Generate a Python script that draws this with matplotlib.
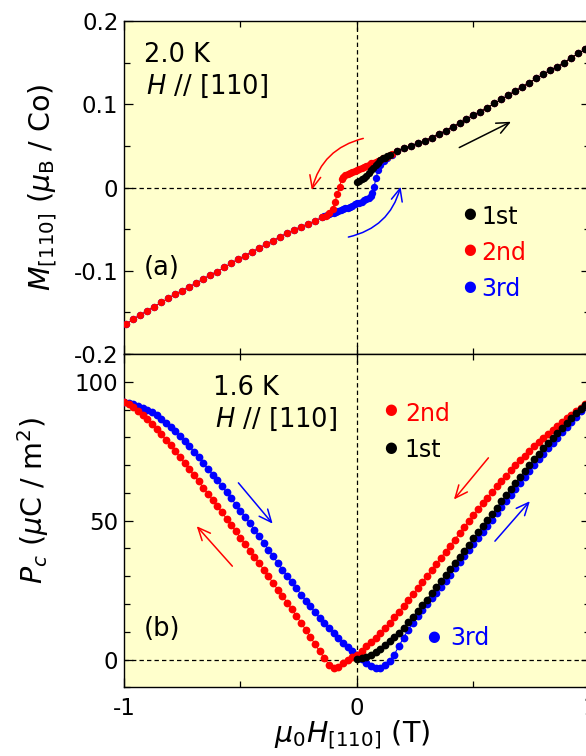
import matplotlib
matplotlib.use("Agg")
import matplotlib.pyplot as plt
from matplotlib.ticker import MultipleLocator, FuncFormatter
from matplotlib.patches import FancyArrowPatch

# ---------------- magnetization M_[110] (2.0 K) ----------------
# common high-field branch (H > 0.15 T), shared by all sweeps
M_HIGH_FIELD = [0.17, 0.20, 0.23, 0.26, 0.29, 0.32, 0.35, 0.38, 0.41, 0.44,
                0.47, 0.50, 0.53, 0.56, 0.59, 0.62, 0.65, 0.68, 0.71, 0.74,
                0.77, 0.80, 0.83, 0.86, 0.89, 0.92, 0.95, 0.98, 1.01]
M_HIGH = [0.044, 0.047, 0.050, 0.053, 0.056, 0.060, 0.064, 0.068, 0.073, 0.077,
          0.082, 0.087, 0.091, 0.096, 0.101, 0.106, 0.111, 0.116, 0.121, 0.126,
          0.131, 0.136, 0.141, 0.145, 0.150, 0.156, 0.161, 0.166, 0.171]
# common low-field branch (H < -0.15 T)
M_LOW_FIELD = [-0.99, -0.96, -0.93, -0.90, -0.87, -0.84, -0.81, -0.78, -0.75, -0.72,
               -0.69, -0.66, -0.63, -0.60, -0.57, -0.54, -0.51, -0.48, -0.45, -0.42,
               -0.39, -0.36, -0.33, -0.30, -0.27, -0.24, -0.21, -0.18]
M_LOW = [-0.164, -0.158, -0.153, -0.148, -0.143, -0.138, -0.133, -0.128, -0.124, -0.119,
         -0.115, -0.110, -0.105, -0.101, -0.096, -0.091, -0.086, -0.082, -0.077, -0.073,
         -0.068, -0.064, -0.059, -0.055, -0.051, -0.047, -0.044, -0.040]

# 1st: virgin curve from zero field
M1_FIELD = [0.00, 0.01, 0.02, 0.03, 0.04, 0.05, 0.06, 0.07, 0.08, 0.09,
            0.10, 0.11, 0.12, 0.13, 0.14]
M1 = [0.007, 0.008, 0.010, 0.012, 0.014, 0.017, 0.021, 0.024, 0.027, 0.030,
      0.033, 0.035, 0.036, 0.038, 0.039]

# 2nd: field decreasing, upper hysteresis branch
M2_FIELD = [0.15, 0.14, 0.13, 0.12, 0.11, 0.10, 0.09, 0.08, 0.07, 0.06,
            0.05, 0.04, 0.03, 0.02, 0.01, 0.00, -0.01, -0.02, -0.03, -0.04,
            -0.05, -0.06, -0.066, -0.075, -0.085, -0.094, -0.105, -0.12, -0.135, -0.15]
M2 = [0.040, 0.039, 0.037, 0.036, 0.035, 0.033, 0.032, 0.031, 0.030, 0.029,
      0.027, 0.026, 0.025, 0.024, 0.022, 0.021, 0.020, 0.019, 0.018, 0.016,
      0.015, 0.013, 0.010, 0.001, -0.008, -0.017, -0.026, -0.031, -0.034, -0.036]

# 3rd: field increasing, lower hysteresis branch
M3_FIELD = [-0.15, -0.14, -0.13, -0.12, -0.11, -0.10, -0.09, -0.08, -0.07, -0.06,
            -0.05, -0.04, -0.03, -0.02, -0.01, 0.00, 0.01, 0.02, 0.03, 0.04,
            0.05, 0.06, 0.066, 0.073, 0.082, 0.09, 0.10, 0.115, 0.13, 0.15]
M3 = [-0.036, -0.034, -0.033, -0.032, -0.031, -0.030, -0.029, -0.028, -0.027, -0.026,
      -0.025, -0.024, -0.023, -0.022, -0.020, -0.019, -0.018, -0.017, -0.015, -0.014,
      -0.012, -0.010, -0.007, 0.001, 0.011, 0.021, 0.027, 0.032, 0.036, 0.039]

# ---------------- polarization P_c (1.6 K) ----------------
P_FIELD = [-1.00, -0.98, -0.96, -0.94, -0.92, -0.90, -0.88, -0.86, -0.84, -0.82,
           -0.80, -0.78, -0.76, -0.74, -0.72, -0.70, -0.68, -0.66, -0.64, -0.62,
           -0.60, -0.58, -0.56, -0.54, -0.52, -0.50, -0.48, -0.46, -0.44, -0.42,
           -0.40, -0.38, -0.36, -0.34, -0.32, -0.30, -0.28, -0.26, -0.24, -0.22,
           -0.20, -0.18, -0.16, -0.14, -0.12, -0.10, -0.08, -0.06, -0.04, -0.02,
           0.00, 0.02, 0.04, 0.06, 0.08, 0.10, 0.12, 0.14, 0.16, 0.18,
           0.20, 0.22, 0.24, 0.26, 0.28, 0.30, 0.32, 0.34, 0.36, 0.38,
           0.40, 0.42, 0.44, 0.46, 0.48, 0.50, 0.52, 0.54, 0.56, 0.58,
           0.60, 0.62, 0.64, 0.66, 0.68, 0.70, 0.72, 0.74, 0.76, 0.78,
           0.80, 0.82, 0.84, 0.86, 0.88, 0.90, 0.92, 0.94, 0.96, 0.98, 1.00]
P_2ND = [92.8, 91.9, 90.8, 89.5, 88.1, 86.5, 84.8, 83.0, 81.1, 79.1,
         77.1, 75.0, 72.9, 70.7, 68.5, 66.3, 64.1, 61.9, 59.7, 57.5,
         55.2, 53.0, 50.7, 48.4, 46.1, 43.8, 41.5, 39.2, 36.9, 34.6,
         32.3, 29.9, 27.5, 25.1, 22.8, 20.5, 18.1, 15.7, 13.2, 10.7,
         8.1, 5.5, 2.9, 0.4, -1.8, -2.9, -2.6, -1.4, -0.3, 0.8,
         1.8, 3.2, 4.7, 6.2, 7.8, 9.5, 11.3, 13.2, 15.2, 17.2,
         19.3, 21.4, 23.5, 25.6, 27.8, 30.0, 32.2, 34.4, 36.6, 38.8,
         41.0, 43.2, 45.4, 47.6, 49.8, 52.0, 54.1, 56.2, 58.3, 60.3,
         62.3, 64.3, 66.2, 68.1, 69.9, 71.7, 73.4, 75.1, 76.7, 78.3,
         79.8, 81.3, 82.7, 84.1, 85.4, 86.8, 88.1, 89.4, 90.7, 91.9, 93.0]
P_3RD = [92.8, 92.5, 92.0, 91.4, 90.7, 89.9, 89.0, 87.9, 86.7, 85.3,
         83.8, 82.2, 80.5, 78.7, 76.8, 74.8, 72.8, 70.8, 68.7, 66.6,
         64.5, 62.4, 60.2, 58.0, 55.8, 53.6, 51.3, 49.0, 46.7, 44.4,
         42.0, 39.6, 37.2, 34.8, 32.4, 30.1, 27.8, 25.6, 23.4, 21.2,
         19.1, 17.0, 15.0, 13.1, 11.3, 9.5, 7.8, 6.1, 4.5, 3.0,
         1.6, 0.2, -1.1, -2.3, -3.2, -3.0, -2.1, -0.5, 1.8, 4.8,
         7.9, 10.7, 13.2, 15.5, 17.7, 19.9, 22.0, 24.1, 26.2, 28.4,
         30.6, 32.8, 35.0, 37.2, 39.4, 41.6, 43.8, 46.0, 48.2, 50.4,
         52.6, 54.8, 57.0, 59.2, 61.4, 63.6, 65.8, 67.9, 70.0, 72.1,
         74.1, 76.1, 78.0, 79.9, 81.8, 83.6, 85.4, 87.4, 89.3, 91.1, 92.8]
P_1ST = [0.3, 0.6, 1.0, 1.7, 2.7, 3.8, 5.1, 6.5, 8.0, 9.7,
         11.5, 13.4, 15.4, 17.4, 19.5, 21.6, 23.8, 26.0, 28.2, 30.4,
         32.6, 34.8, 37.0, 39.2, 41.4, 43.6, 45.8, 48.0, 50.2, 52.4,
         54.6, 56.9, 59.2, 61.4, 63.6, 65.8, 67.9, 70.0, 72.1, 74.1,
         76.1, 78.0, 79.9, 81.7, 83.5, 85.2, 86.9, 88.6, 90.3, 91.7, 93.0]
P_1ST_FIELD = P_FIELD[50:]

RED, BLUE, BLACK = "#ff0000", "#0000ff", "#000000"
BG = "#ffffcc"

plt.rcParams.update({
    "font.family": "DejaVu Sans",
    "mathtext.fontset": "custom",
    "mathtext.rm": "DejaVu Sans",
    "mathtext.it": "DejaVu Sans:italic",
    "mathtext.bf": "DejaVu Sans:bold",
    "axes.unicode_minus": False,
    "axes.linewidth": 1.0,
})

fig = plt.figure(figsize=(5.86, 7.56), dpi=100)
ax1 = fig.add_axes([0.2116, 0.5317, 0.7952, 0.4405])
ax2 = fig.add_axes([0.2116, 0.0909, 0.7952, 0.4409])

TICK_FS = 16.5
LABEL_FS = 20.5
NOTE_FS = 18.5
LEG_FS = 17


def style_axes(ax):
    ax.set_facecolor(BG)
    ax.tick_params(which="both", direction="in", top=True, right=True,
                   labelsize=TICK_FS, width=0.9)
    ax.tick_params(which="major", length=6.5)
    ax.tick_params(which="minor", length=4)
    ax.tick_params(axis="x", pad=7)
    ax.tick_params(axis="y", pad=4)
    ax.set_xlim(-1, 1)
    ax.xaxis.set_major_locator(MultipleLocator(1))
    ax.xaxis.set_minor_locator(MultipleLocator(0.5))
    dash = dict(color="black", lw=0.9, dashes=(3.5, 2.5), zorder=1)
    ax.axhline(0, **dash)
    ax.axvline(0, **dash)


def arrow(ax, start, end, color, rad=0.0):
    ax.add_patch(FancyArrowPatch(start, end, arrowstyle="->,head_length=0.45,head_width=0.2",
                                 mutation_scale=20, color=color, lw=1.1,
                                 connectionstyle=f"arc3,rad={rad}",
                                 shrinkA=0, shrinkB=0, zorder=6))


top_kw = dict(marker="o", ms=5.3, lw=0.8, mew=0)
bot_kw = dict(marker="o", ms=5.6, lw=0.8, mew=0)

# ---- panel (a) ----
style_axes(ax1)
ax1.set_ylim(-0.2, 0.2)
ax1.yaxis.set_major_locator(MultipleLocator(0.1))
ax1.yaxis.set_minor_locator(MultipleLocator(0.05))
ax1.yaxis.set_major_formatter(FuncFormatter(lambda v, p: "0" if abs(v) < 1e-9 else f"{v:.1f}"))
ax1.tick_params(axis="x", labelbottom=False)

ax1.plot(M_LOW_FIELD + M3_FIELD + M_HIGH_FIELD, M_LOW + M3 + M_HIGH,
         color=BLUE, zorder=3, **top_kw)
ax1.plot(M_HIGH_FIELD[::-1] + M2_FIELD + M_LOW_FIELD[::-1],
         M_HIGH[::-1] + M2 + M_LOW[::-1], color=RED, zorder=4, **top_kw)
ax1.plot(M1_FIELD + M_HIGH_FIELD, M1 + M_HIGH, color=BLACK, zorder=5, **top_kw)

ax1.set_ylabel(r"$M_{[110]}$ ($\mu_{\mathrm{B}}$ / Co)", fontsize=LABEL_FS)
ax1.yaxis.label.set_va("baseline")
ax1.yaxis.set_label_coords(-0.159, 0.5)

ax1.text(-0.914, 0.151, "2.0 K", fontsize=NOTE_FS)
ax1.text(-0.905, 0.112, r"$H$ // [110]", fontsize=NOTE_FS)
ax1.text(-0.914, -0.105, "(a)", fontsize=NOTE_FS)

for label, color, yd, yt in [("1st", BLACK, -0.031, -0.0435),
                             ("2nd", RED, -0.075, -0.0868),
                             ("3rd", BLUE, -0.119, -0.1307)]:
    ax1.text(0.482, yd, "\u25cf", color=color, fontsize=10.5, ha="center", va="center")
    ax1.text(0.535, yt, label, color=color, fontsize=LEG_FS)

arrow(ax1, (0.027, 0.059), (-0.194, -0.003), RED, rad=0.3)
arrow(ax1, (-0.037, -0.0595), (0.187, 0.001), BLUE, rad=0.3)
arrow(ax1, (0.439, 0.048), (0.661, 0.079), BLACK)

# ---- panel (b) ----
style_axes(ax2)
ax2.set_ylim(-10, 110)
ax2.yaxis.set_major_locator(MultipleLocator(50))
ax2.yaxis.set_minor_locator(MultipleLocator(10))
ax2.yaxis.set_major_formatter(FuncFormatter(lambda v, p: f"{v:.0f}"))
ax2.xaxis.set_major_formatter(FuncFormatter(lambda v, p: f"{v:.0f}"))

ax2.plot(P_FIELD, P_3RD, color=BLUE, zorder=3, **bot_kw)
ax2.plot(P_FIELD[::-1], P_2ND[::-1], color=RED, zorder=4, **bot_kw)
ax2.plot(P_1ST_FIELD, P_1ST, color=BLACK, zorder=5, **bot_kw)

ax2.set_ylabel(r"$P_c$ ($\mu$C / m$^2$)", fontsize=LABEL_FS)
ax2.yaxis.label.set_va("baseline")
ax2.yaxis.set_label_coords(-0.174, 0.562)
ax2.set_xlabel(r"$\mu_0H_{[110]}$ (T)", fontsize=LABEL_FS)
ax2.xaxis.label.set_va("baseline")
ax2.xaxis.set_label_coords(0.489, -0.163)

ax2.text(-0.617, 95.3, "1.6 K", fontsize=NOTE_FS)
ax2.text(-0.609, 83.9, r"$H$ // [110]", fontsize=NOTE_FS)
ax2.text(-0.914, 8.4, "(b)", fontsize=NOTE_FS)

for label, color, xd, yd, xt, yt in [("2nd", RED, 0.142, 89.9, 0.205, 85.7),
                                     ("1st", BLACK, 0.142, 76.4, 0.205, 72.9),
                                     ("3rd", BLUE, 0.330, 8.2, 0.400, 5.4)]:
    ax2.text(xd, yd, "\u25cf", color=color, fontsize=10.5, ha="center", va="center")
    ax2.text(xt, yt, label, color=color, fontsize=LEG_FS)

arrow(ax2, (-0.509, 63.6), (-0.362, 48.9), BLUE)
arrow(ax2, (-0.535, 33.6), (-0.688, 48.0), RED)
arrow(ax2, (0.564, 72.6), (0.416, 57.6), RED)
arrow(ax2, (0.592, 42.6), (0.742, 57.0), BLUE)

fig.savefig("out.png", dpi=100)
